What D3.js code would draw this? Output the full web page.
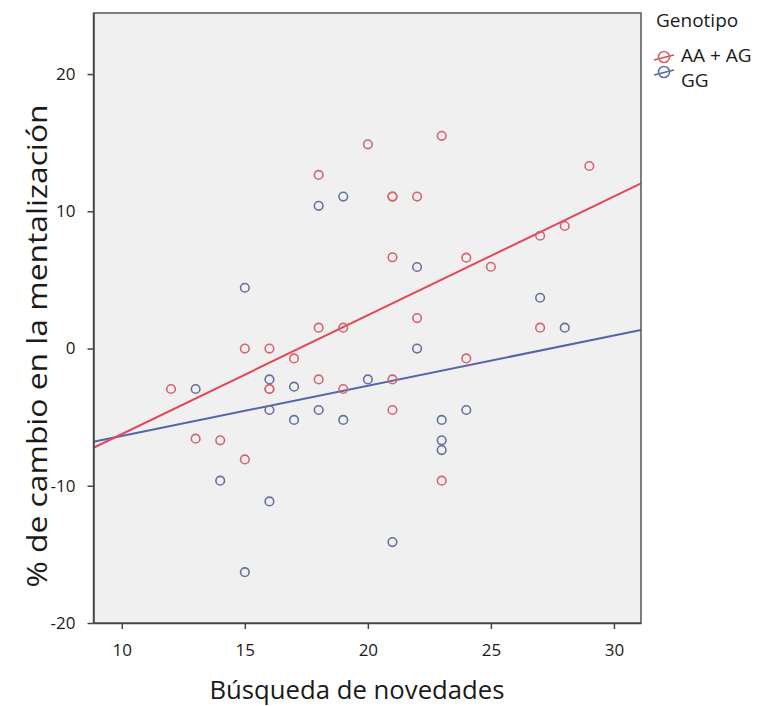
<!DOCTYPE html>
<html>
<head>
<meta charset="utf-8">
<script src="https://cdn.jsdelivr.net/npm/d3@7"></script>
<style>
  html, body { margin: 0; padding: 0; background: #ffffff; }
  svg { display: block; }
  text { font-family: "Open Sans", "Noto Sans", sans-serif; fill: #1a1a1a; }
</style>
</head>
<body>
<svg id="chart" width="770" height="706"></svg>
<script>
// Búsqueda de novedades (x) vs % de cambio en la mentalización (y), por genotipo
const groups = ["AA + AG", "GG"];

const aaX = [18, 20, 23, 29, 21, 21, 22, 27, 28, 21, 24, 25, 22, 18, 19, 27,
             15, 16, 17, 24, 18, 21, 12, 16, 16, 19, 21, 13, 14, 15, 23];
const aaY = [12.65, 14.88, 15.5, 13.3, 11.07, 11.07, 11.07, 8.22, 8.93, 6.65, 6.62, 5.96, 2.22, 1.52, 1.52, 1.52,
             0, 0, -0.72, -0.72, -2.25, -2.25, -2.95, -2.95, -2.95, -2.95, -4.48, -6.57, -6.69, -8.08, -9.63];

const ggX = [18, 19, 22, 15, 27, 28, 22, 16, 20, 13, 17, 16, 18, 24, 17, 19,
             23, 23, 23, 14, 16, 21, 15];
const ggY = [10.4, 11.07, 5.94, 4.43, 3.7, 1.52, 0, -2.25, -2.25, -2.95, -2.78, -4.48, -4.48, -4.48, -5.2, -5.2,
             -5.2, -6.69, -7.4, -9.63, -11.14, -14.1, -16.3];

const xTicks = [10, 15, 20, 25, 30];
const yTicks = [-20, -10, 0, 10, 20];

const xTitle = "Búsqueda de novedades";
const yTitle = "% de cambio en la mentalización";
const legendTitle = "Genotipo";

const pointColors = ["#d8646e", "#66719f"];
const lineColors = ["#e04a58", "#5565a8"];

const svg = d3.select("#chart");
const plot = { left: 93.5, right: 641, top: 13, bottom: 623 };

const x = d3.scaleLinear().domain([8.85, 31.1]).range([plot.left, plot.right]);
const y = d3.scaleLinear().domain([-20, 24.45]).range([plot.bottom, plot.top]);

// plot background
svg.append("rect")
  .attr("x", plot.left).attr("y", plot.top)
  .attr("width", plot.right - plot.left).attr("height", plot.bottom - plot.top)
  .attr("fill", "#f0f0f0");

svg.append("clipPath").attr("id", "plotClip")
  .append("rect")
  .attr("x", plot.left).attr("y", plot.top)
  .attr("width", plot.right - plot.left).attr("height", plot.bottom - plot.top);

// least-squares fit line per group
function fit(xs, ys) {
  const mx = d3.mean(xs), my = d3.mean(ys);
  let sxy = 0, sxx = 0;
  xs.forEach((v, i) => { sxy += (v - mx) * (ys[i] - my); sxx += (v - mx) * (v - mx); });
  const b = sxy / sxx;
  return { a: my - b * mx, b };
}

const series = [
  { name: groups[0], xs: aaX, ys: aaY, pc: pointColors[0], lc: lineColors[0] },
  { name: groups[1], xs: ggX, ys: ggY, pc: pointColors[1], lc: lineColors[1] }
];

const g = svg.append("g").attr("clip-path", "url(#plotClip)");

// fit lines drawn first so circles sit on top
series.slice().reverse().forEach(s => {
  const f = fit(s.xs, s.ys);
  const [x0, x1] = x.domain();
  g.append("line")
    .attr("x1", x(x0)).attr("y1", y(f.a + f.b * x0))
    .attr("x2", x(x1)).attr("y2", y(f.a + f.b * x1))
    .attr("stroke", s.lc).attr("stroke-width", 2);
});

series.forEach(s => {
  g.selectAll(null)
    .data(s.xs.map((v, i) => [v, s.ys[i]]))
    .join("circle")
    .attr("cx", d => x(d[0]))
    .attr("cy", d => y(d[1]))
    .attr("r", 4.3)
    .attr("fill", "none")
    .attr("stroke", s.pc)
    .attr("stroke-width", 1.6);
});

// frame
svg.append("rect")
  .attr("x", plot.left).attr("y", plot.top)
  .attr("width", plot.right - plot.left).attr("height", plot.bottom - plot.top)
  .attr("fill", "none").attr("stroke", "#555555").attr("stroke-width", 1.5);

// axes
const fmt = d => String(d);
const xAxis = svg.append("g")
  .attr("transform", `translate(0,${plot.bottom})`)
  .call(d3.axisBottom(x).tickValues(xTicks).tickFormat(fmt).tickSize(6).tickSizeOuter(0).tickPadding(15));
const yAxis = svg.append("g")
  .attr("transform", `translate(${plot.left},0)`)
  .call(d3.axisLeft(y).tickValues(yTicks).tickFormat(fmt).tickSize(6).tickSizeOuter(0).tickPadding(12));

[xAxis, yAxis].forEach(ax => {
  ax.select(".domain").attr("stroke", "#444444").attr("stroke-width", 1.5);
  ax.selectAll(".tick line").attr("stroke", "#444444").attr("stroke-width", 1.5);
  ax.selectAll(".tick text")
    .attr("font-family", "'Open Sans', 'Noto Sans', sans-serif")
    .attr("font-size", 17).attr("fill", "#1a1a1a");
});

// axis titles
svg.append("text")
  .attr("x", 357).attr("y", 699)
  .attr("text-anchor", "middle")
  .attr("font-size", 26)
  .attr("textLength", 295)
  .attr("lengthAdjust", "spacingAndGlyphs")
  .text(xTitle);

svg.append("text")
  .attr("transform", "translate(47,346) rotate(-90)")
  .attr("text-anchor", "middle")
  .attr("font-size", 28)
  .attr("textLength", 483)
  .attr("lengthAdjust", "spacingAndGlyphs")
  .text(yTitle);

// legend
const legend = svg.append("g");
legend.append("text")
  .attr("x", 656).attr("y", 27)
  .attr("font-size", 19)
  .text(legendTitle);

const legendIconY = [57, 72];
const legendTextY = [57, 82];
series.forEach((s, i) => {
  const cx = 664, cy = legendIconY[i];
  legend.append("line")
    .attr("x1", cx - 10).attr("y1", cy + 3)
    .attr("x2", cx + 10).attr("y2", cy - 2)
    .attr("stroke", s.lc).attr("stroke-width", 1.6);
  legend.append("circle")
    .attr("cx", cx).attr("cy", cy).attr("r", 5.5)
    .attr("fill", "none").attr("stroke", s.pc).attr("stroke-width", 1.6);
  legend.append("text")
    .attr("x", 681).attr("y", legendTextY[i])
    .attr("dominant-baseline", "middle")
    .attr("font-size", 19)
    .text(s.name);
});
</script>
</body>
</html>
